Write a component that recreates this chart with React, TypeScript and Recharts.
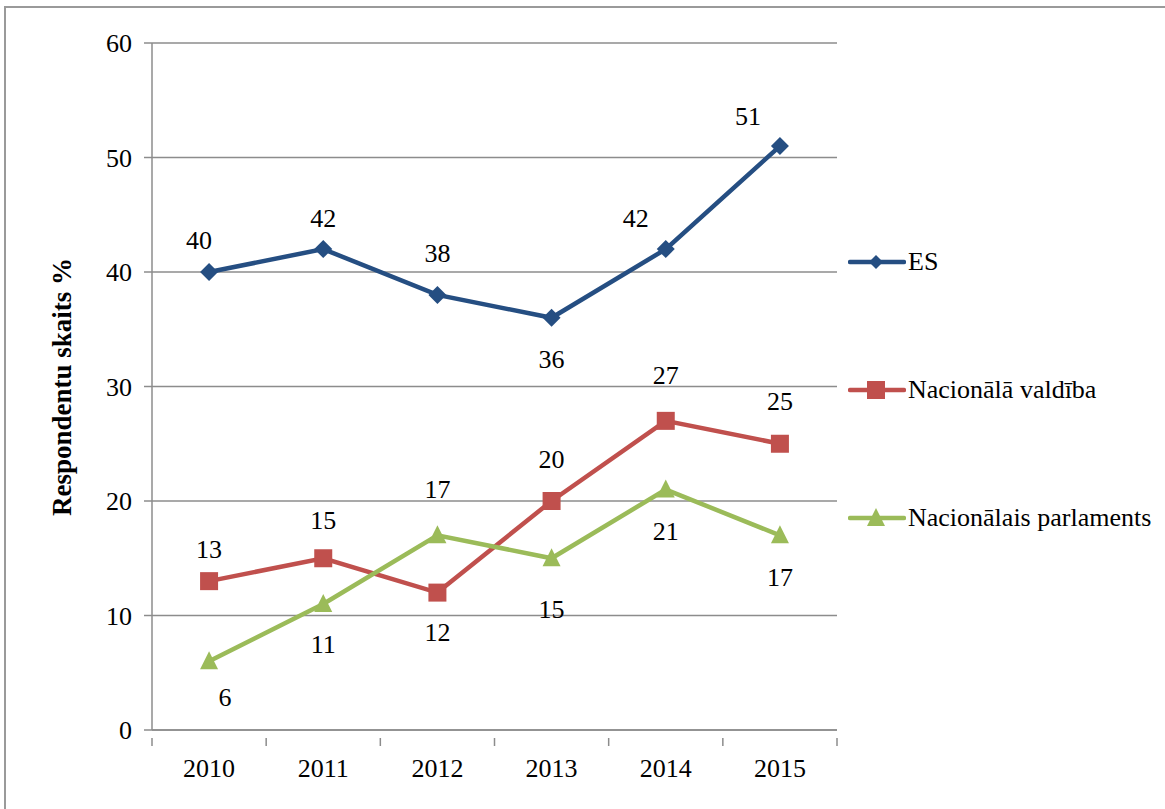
import { LineChart, Line, XAxis, YAxis, CartesianGrid, LabelList } from "recharts";

// values
const years = ["2010", "2011", "2012", "2013", "2014", "2015"];
const esValues = [40, 42, 38, 36, 42, 51];
const valdibaValues = [13, 15, 12, 20, 27, 25];
const parlamentsValues = [6, 11, 17, 15, 21, 17];
const yTicks = [0, 10, 20, 30, 40, 50, 60];

const seriesNames = ["ES", "Nacionālā valdība", "Nacionālais parlaments"];

// label placement (dx, dy from the marker)
const esLabelDx = [-10, 0, 0, 0, -30, -32];
const esLabelDy = [-32, -31, -41, 42, -31, -30];
const valdibaLabelDx = [0, 0, 0, 0, 0, 0];
const valdibaLabelDy = [-32, -38, 40, -42, -45, -42];
const parlamentsLabelDx = [16, 0, 0, 0, 0, 0];
const parlamentsLabelDy = [36, 40, -46, 51, 42, 42];

const data = years.map((year, i) => ({
  year,
  es: esValues[i],
  valdiba: valdibaValues[i],
  parlaments: parlamentsValues[i],
}));

const FONT = "Liberation Serif";
const FS = 26;
const BLUE = "#254E82";
const RED = "#C0504D";
const GREEN = "#9BBB59";
const GRID = "#8c8c8c";
const HALF_BAND = 57.08;

const Diamond = ({ cx, cy, size = 9 }: any) => (
  <polygon points={`${cx},${cy - size} ${cx + size},${cy} ${cx},${cy + size} ${cx - size},${cy}`} fill={BLUE} />
);
const Square = ({ cx, cy, size = 9 }: any) => (
  <rect x={cx - size} y={cy - size} width={size * 2} height={size * 2} fill={RED} />
);
const Triangle = ({ cx, cy, size = 9 }: any) => (
  <polygon points={`${cx},${cy - size - 1} ${cx + size},${cy + size - 1} ${cx - size},${cy + size - 1}`} fill={GREEN} />
);

const makeLabel = (dxs: number[], dys: number[]) => (props: any) => {
  const { x, y, value, index } = props;
  return (
    <text
      x={x + dxs[index]}
      y={y + dys[index]}
      textAnchor="middle"
      dominantBaseline="central"
      fontFamily={FONT}
      fontSize={FS}
      fill="#000"
    >
      {value}
    </text>
  );
};

const XTick = (props: any) => {
  const { x, y, payload, index } = props;
  return (
    <g>
      <line x1={x - HALF_BAND} y1={y} x2={x - HALF_BAND} y2={y + 8} stroke={GRID} strokeWidth={1.5} />
      {index === years.length - 1 && (
        <line x1={x + HALF_BAND} y1={y} x2={x + HALF_BAND} y2={y + 8} stroke={GRID} strokeWidth={1.5} />
      )}
      <text x={x} y={y + 30} textAnchor="middle" dominantBaseline="central" fontFamily={FONT} fontSize={FS} fill="#000">
        {payload.value}
      </text>
    </g>
  );
};

const legendIcons = [
  <Diamond cx={28} cy={10} size={7} />,
  <Square cx={28} cy={10} size={9} />,
  <Triangle cx={28} cy={10} size={9} />,
];
const legendColors = [BLUE, RED, GREEN];

export default function App() {
  return (
    <div style={{ position: "absolute", left: 0, top: 0, width: 1165, height: 809, overflow: "hidden", background: "#fff", fontFamily: FONT }}>
      <div style={{ position: "absolute", left: 4, top: 6, width: 1200, height: 900, border: "2px solid #9a9a9a" }} />
      <div style={{ position: "absolute", left: 0, top: 0 }}>
        <LineChart width={1165} height={809} data={data} margin={{ top: 43, right: 328, bottom: 0, left: 0 }}>
          <CartesianGrid vertical={false} stroke={GRID} strokeWidth={1.5} />
          <XAxis
            dataKey="year"
            height={79}
            padding={{ left: HALF_BAND, right: HALF_BAND }}
            axisLine={{ stroke: GRID, strokeWidth: 1.5 }}
            tickLine={false}
            tick={<XTick />}
            interval={0}
          />
          <YAxis
            width={152}
            domain={[0, 60]}
            ticks={yTicks}
            tickSize={8}
            tickMargin={12}
            axisLine={{ stroke: GRID, strokeWidth: 1.5 }}
            tickLine={{ stroke: GRID, strokeWidth: 1.5 }}
            tick={{ fontFamily: FONT, fontSize: FS, fill: "#000" }}
            label={{
              content: () => (
                <text
                  x={62}
                  y={387}
                  transform="rotate(-90 62 387)"
                  textAnchor="middle"
                  dominantBaseline="central"
                  fontFamily={FONT}
                  fontSize={27}
                  fontWeight="bold"
                  fill="#000"
                >
                  Respondentu skaits %
                </text>
              ),
            }}
          />
          <Line dataKey="es" name={seriesNames[0]} stroke={BLUE} strokeWidth={4.5} dot={<Diamond />} isAnimationActive={false}>
            <LabelList dataKey="es" content={makeLabel(esLabelDx, esLabelDy)} />
          </Line>
          <Line dataKey="valdiba" name={seriesNames[1]} stroke={RED} strokeWidth={4.5} dot={<Square />} isAnimationActive={false}>
            <LabelList dataKey="valdiba" content={makeLabel(valdibaLabelDx, valdibaLabelDy)} />
          </Line>
          <Line dataKey="parlaments" name={seriesNames[2]} stroke={GREEN} strokeWidth={4.5} dot={<Triangle />} isAnimationActive={false}>
            <LabelList dataKey="parlaments" content={makeLabel(parlamentsLabelDx, parlamentsLabelDy)} />
          </Line>
        </LineChart>
      </div>
      {seriesNames.map((name, i) => (
        <div key={name} style={{ position: "absolute", left: 848, top: 252 + i * 128, display: "flex", alignItems: "center", height: 20 }}>
          <svg width={58} height={20} style={{ flexShrink: 0 }}>
            <line x1={2} y1={10} x2={56} y2={10} stroke={legendColors[i]} strokeWidth={4.5} strokeLinecap="round" />
            {legendIcons[i]}
          </svg>
          <span style={{ fontSize: FS, color: "#000", marginLeft: 2, whiteSpace: "nowrap" }}>{name}</span>
        </div>
      ))}
    </div>
  );
}
